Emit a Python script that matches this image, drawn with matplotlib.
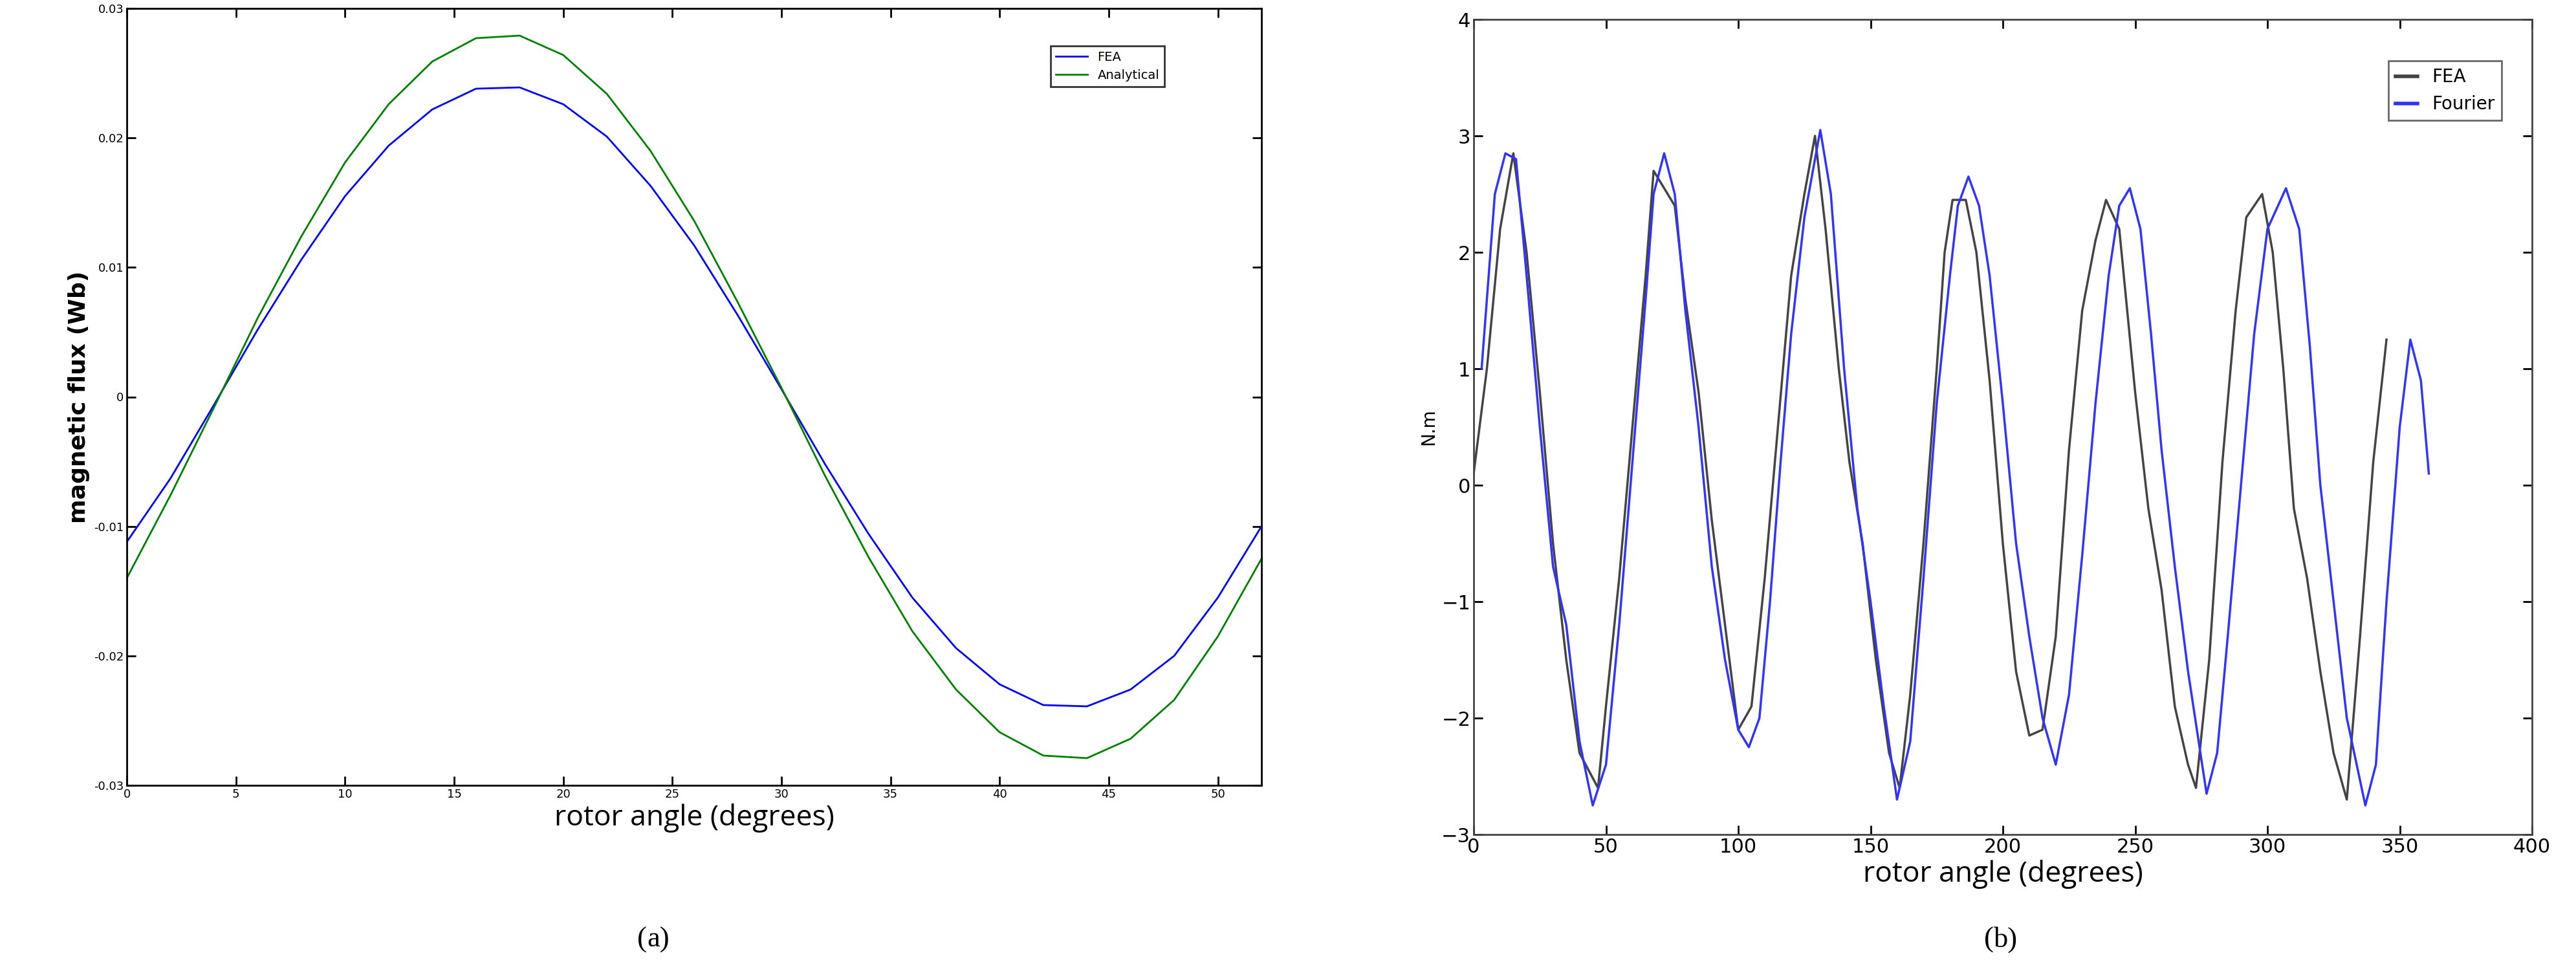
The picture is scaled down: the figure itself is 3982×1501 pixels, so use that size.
import matplotlib.pyplot as plt

# panel (a): magnetic flux vs rotor angle
angle_a = [0, 2, 4, 6, 8, 10, 12, 14, 16, 18, 20, 22, 24, 26, 28, 30, 32, 34, 36, 38, 40, 42, 44, 46, 48, 50, 52]
flux_fea = [-0.0112, -0.0063, -0.0006, 0.0052, 0.0106, 0.0155, 0.0194, 0.0222, 0.0238, 0.0239, 0.0226, 0.0201,
            0.0163, 0.0117, 0.0063, 0.0006, -0.0052, -0.0106, -0.0155, -0.0194, -0.0222, -0.0238, -0.0239,
            -0.0226, -0.0200, -0.0155, -0.0100]
flux_analytical = [-0.0140, -0.0076, -0.0008, 0.0061, 0.0124, 0.0181, 0.0226, 0.0259, 0.0277, 0.0279, 0.0264,
                   0.0234, 0.0190, 0.0136, 0.0073, 0.0007, -0.0061, -0.0124, -0.0181, -0.0226, -0.0259, -0.0277,
                   -0.0279, -0.0264, -0.0234, -0.0185, -0.0125]

# panel (b): torque
angle_fea = [0, 5, 10, 15, 20, 25, 30, 35, 40, 47, 50, 55, 60, 65, 68, 72, 76, 80, 85, 90, 95, 100, 105, 110,
             115, 120, 125, 129, 133, 138, 142, 147, 152, 157, 161, 165, 170, 175, 178, 181, 186, 190, 195, 200,
             205, 210, 215, 220, 225, 230, 235, 239, 244, 250, 255, 260, 265, 270, 273, 278, 283, 288, 292, 298,
             302, 306, 310, 315, 320, 325, 330, 335, 340, 345]
torque_fea = [0.1, 1.0, 2.2, 2.85, 2.0, 0.8, -0.5, -1.5, -2.3, -2.6, -1.9, -0.8, 0.5, 1.8, 2.7, 2.55, 2.4, 1.6,
              0.8, -0.3, -1.2, -2.1, -1.9, -0.8, 0.5, 1.8, 2.5, 3.0, 2.2, 1.0, 0.2, -0.5, -1.5, -2.3, -2.6, -1.8,
              -0.5, 1.0, 2.0, 2.45, 2.45, 2.0, 0.9, -0.5, -1.6, -2.15, -2.1, -1.3, 0.3, 1.5, 2.1, 2.45, 2.2, 0.8,
              -0.2, -0.9, -1.9, -2.4, -2.6, -1.5, 0.2, 1.5, 2.3, 2.5, 2.0, 1.0, -0.2, -0.8, -1.6, -2.3, -2.7,
              -1.3, 0.2, 1.25]
angle_fourier = [3, 8, 12, 16, 20, 25, 30, 35, 40, 45, 50, 55, 60, 65, 68, 72, 76, 80, 85, 90, 95, 100, 104,
                 108, 112, 116, 120, 125, 131, 135, 140, 145, 150, 155, 160, 165, 170, 175, 180, 183, 187, 191,
                 195, 200, 205, 210, 215, 220, 225, 230, 235, 240, 244, 248, 252, 256, 260, 265, 270, 277, 281,
                 285, 290, 295, 300, 307, 312, 316, 320, 325, 330, 337, 341, 345, 350, 354, 358, 361]
torque_fourier = [1.0, 2.5, 2.85, 2.8, 1.8, 0.5, -0.7, -1.2, -2.2, -2.75, -2.4, -1.2, 0.2, 1.6, 2.5, 2.85, 2.5,
                  1.5, 0.5, -0.7, -1.5, -2.1, -2.25, -2.0, -1.0, 0.2, 1.3, 2.3, 3.05, 2.5, 1.0, -0.2, -1.0, -1.9,
                  -2.7, -2.2, -0.8, 0.7, 1.8, 2.4, 2.65, 2.4, 1.8, 0.7, -0.5, -1.3, -2.0, -2.4, -1.8, -0.6, 0.7,
                  1.8, 2.4, 2.55, 2.2, 1.3, 0.3, -0.7, -1.6, -2.65, -2.3, -1.3, 0.0, 1.3, 2.2, 2.55, 2.2, 1.2,
                  0.0, -1.0, -2.0, -2.75, -2.4, -1.0, 0.5, 1.25, 0.9, 0.1]

fig = plt.figure(figsize=(39.82, 15.01), dpi=100)

# (a)
ax1 = fig.add_axes([196 / 3982, 1 - 1214 / 1501, 1754 / 3982, 1201 / 1501])
ax1.plot(angle_a, flux_fea, color='blue', lw=2, label='FEA')
ax1.plot(angle_a, flux_analytical, color='green', lw=2, label='Analytical')
ax1.set_xlim(0, 52)
ax1.set_ylim(-0.03, 0.03)
ax1.set_xticks(range(0, 55, 5))
ax1.set_yticks([-0.03, -0.02, -0.01, 0, 0.01, 0.02, 0.03])
ax1.set_yticklabels(['-0.03', '-0.02', '-0.01', '0', '0.01', '0.02', '0.03'])
ax1.tick_params(labelsize=13, direction='in', length=10, width=2, top=True, right=True)
for s in ax1.spines.values():
    s.set_linewidth(2)
ax1.set_xlabel('rotor angle (degrees)', fontsize=32, family='Open Sans')
ax1.set_ylabel('magnetic flux (Wb)', fontsize=26, family='DejaVu Sans', fontweight='bold')
leg = ax1.legend(loc='upper right', bbox_to_anchor=(0.92, 0.96), fontsize=14, fancybox=False,
                 edgecolor='black', handlelength=2.5)
leg.get_frame().set_linewidth(2)

# (b)
ax2 = fig.add_axes([2278 / 3982, 1 - 1290 / 1501, 1636 / 3982, 1260 / 1501])
ax2.plot(angle_fea, torque_fea, color='#444444', lw=2.5, label='FEA')
ax2.plot(angle_fourier, torque_fourier, color='#3333ff', lw=2.5, label='Fourier')
ax2.set_xlim(0, 400)
ax2.set_ylim(-3, 4)
ax2.set_xticks(range(0, 401, 50))
ax2.set_yticks(range(-3, 5))
ax2.tick_params(labelsize=22, direction='in', length=10, width=2, top=True, right=True)
for s in ax2.spines.values():
    s.set_linewidth(2)
    s.set_color('#444444')
ax2.set_xlabel('rotor angle (degrees)', fontsize=32, family='Open Sans')
ax2.set_ylabel('N.m', fontsize=20)
leg2 = ax2.legend(loc='upper right', bbox_to_anchor=(0.98, 0.96), fontsize=20, fancybox=False,
                  edgecolor='#444444', handlelength=1.2)
leg2.get_frame().set_linewidth(2)
for h in leg2.get_lines():
    h.set_linewidth(4)

fig.text(1000 / 3982, 1 - 1453 / 1501, '(', fontsize=32, family='Liberation Serif', ha='right', va='center')
fig.text(1000 / 3982, 1 - 1453 / 1501, 'a)', fontsize=32, family='Liberation Serif', ha='left', va='center')
fig.text(3082 / 3982, 1 - 1453 / 1501, '(', fontsize=32, family='Liberation Serif', ha='right', va='center')
fig.text(3082 / 3982, 1 - 1453 / 1501, 'b)', fontsize=32, family='Liberation Serif', ha='left', va='center')

fig.savefig('out.png', dpi=100)
